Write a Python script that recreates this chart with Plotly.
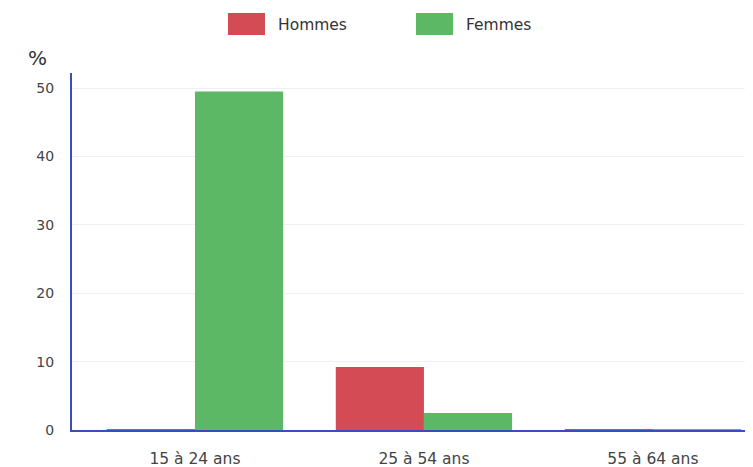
import plotly.graph_objects as go

categories = ["15 à 24 ans", "25 à 54 ans", "55 à 64 ans"]
hommes = [0.1, 9.2, 0.1]
femmes = [49.5, 2.5, 0.1]
series_names = ["Hommes", "Femmes"]
colors = ["#d24b55", "#5cb865"]
tick_vals = [0, 10, 20, 30, 40, 50]

fig = go.Figure()
for name, vals, col in zip(series_names, [hommes, femmes], colors):
    fig.add_trace(go.Bar(name=name, x=categories, y=vals, marker_color=col,
                         marker_line_width=0, showlegend=False))

font_fam = "DejaVu Sans, Verdana, sans-serif"

# page has an 8px body margin; convert screen pixels to paper coords
PLOT_L, PLOT_W, PLOT_B, PLOT_H = 72, 689, 430, 357


def px(sx):
    return (sx - PLOT_L) / PLOT_W


def py(sy):
    return (PLOT_B - sy) / PLOT_H


# custom legend (large swatches)
legend_x = [228, 416]
for i, (name, col) in enumerate(zip(series_names, colors)):
    fig.add_shape(type="rect", xref="paper", yref="paper",
                  x0=px(legend_x[i]), x1=px(legend_x[i] + 37),
                  y0=py(35), y1=py(13),
                  fillcolor=col, line_width=0)
    fig.add_annotation(xref="paper", yref="paper",
                       x=px(legend_x[i] + 48), y=py(25),
                       text=name, showarrow=False, xanchor="left", yanchor="middle",
                       font=dict(family=font_fam, size=15.5, color="#333"))

fig.add_annotation(xref="paper", yref="paper", x=px(37), y=py(58),
                   text="%", showarrow=False, xanchor="center", yanchor="middle",
                   font=dict(family=font_fam, size=20, color="#333"))

fig.update_layout(
    width=753, height=467,
    margin=dict(l=64, r=0, t=65, b=45),
    paper_bgcolor="white", plot_bgcolor="white",
    barmode="group", bargap=0.23, bargroupgap=0,
    font=dict(family=font_fam, color="#444"),
    xaxis=dict(range=[-0.537, 2.472], showgrid=False, showline=True,
               linecolor="#3b4cc0", linewidth=2, ticks="", zeroline=False,
               ticklabelstandoff=13,
               tickfont=dict(size=15.5, color="#444")),
    yaxis=dict(range=[0, 52.2], tickvals=tick_vals, showgrid=True,
               gridcolor="#f0f0f0", gridwidth=1, showline=True,
               linecolor="#3b4cc0", linewidth=2, zeroline=False,
               ticks="", ticklabelstandoff=13,
               tickfont=dict(size=14, color="#444")),
)

fig.write_html("out.html")
